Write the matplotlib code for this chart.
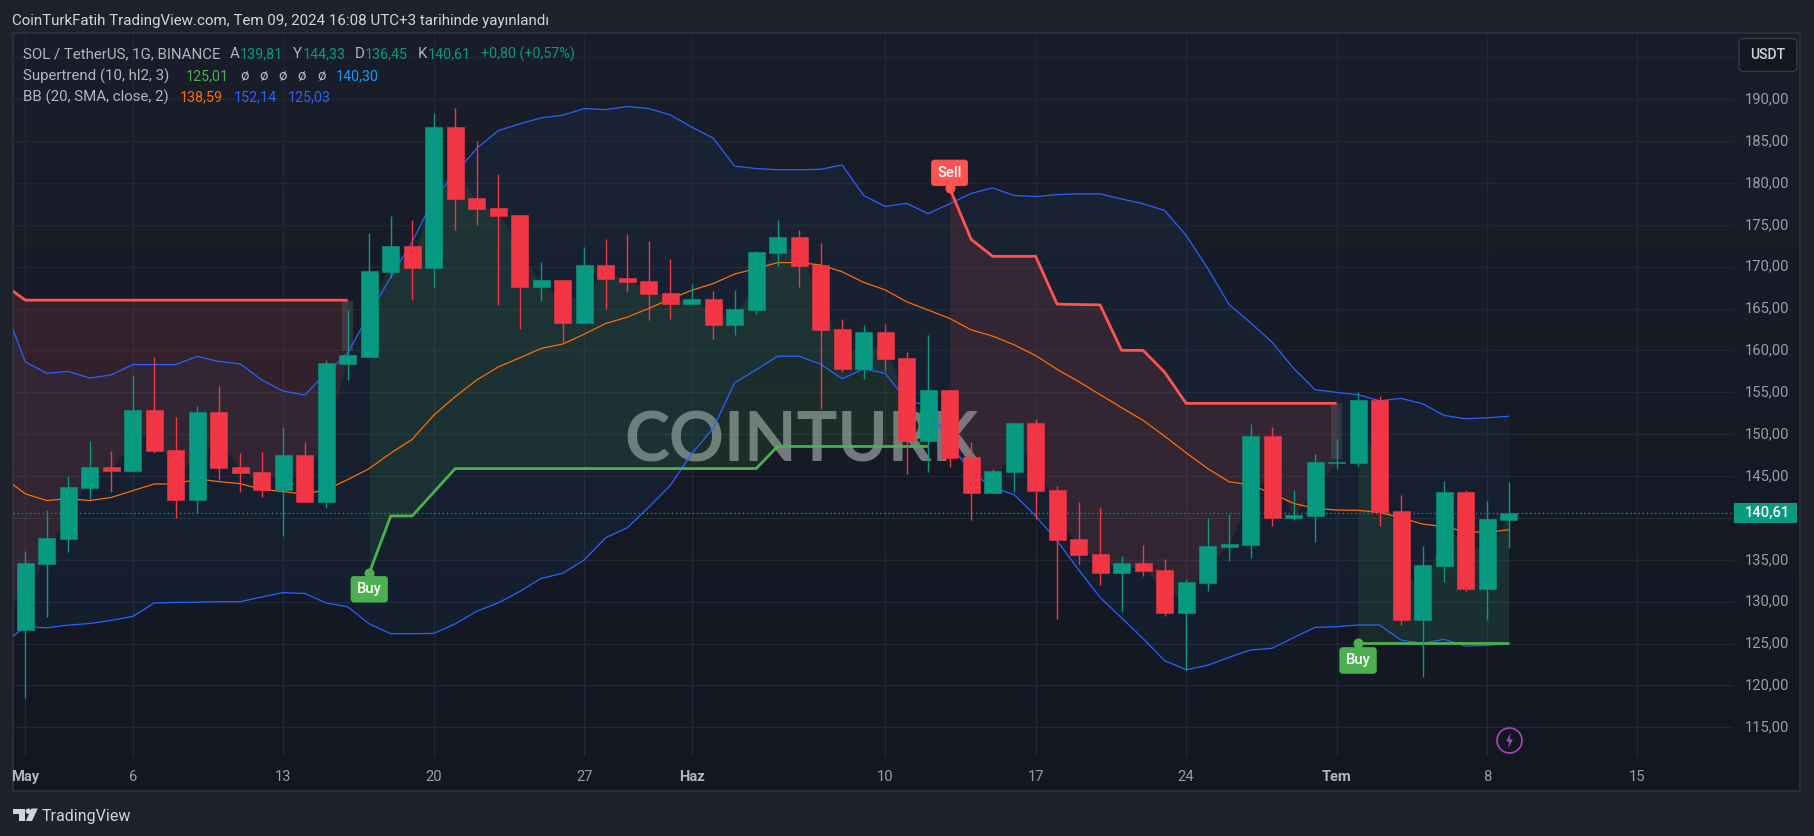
import matplotlib
matplotlib.use('Agg')
import matplotlib.pyplot as plt
import numpy as np
from matplotlib.patches import Rectangle, FancyBboxPatch, Polygon, Circle

# candles, May 1 .. Jul 9 (one per day)
opens = [126.64,134.52,137.50,143.59,146.09,145.62,152.89,148.12,142.12,152.65,
         146.09,145.47,143.35,147.50,141.89,158.36,159.21,169.36,172.48,169.84,
         186.69,178.19,177.01,176.16,167.57,168.42,163.27,170.21,168.66,168.28,
         166.86,165.54,166.15,163.04,164.83,171.63,173.57,170.21,162.57,157.80,
         162.19,159.12,149.21,155.30,147.27,142.97,145.47,151.33,143.35,137.50,
         135.70,133.44,134.62,133.77,128.67,132.21,136.53,136.77,149.78,139.99,
         140.23,146.56,146.56,154.08,140.83,127.81,134.26,143.10,131.51,139.81]
highs = [136.03,140.90,145.00,149.21,147.98,156.95,159.21,152.04,153.36,155.77,
         147.74,147.88,150.86,149.06,158.84,164.83,174.04,176.07,175.60,188.34,
         188.96,185.00,181.07,176.16,170.54,168.42,172.34,173.28,173.90,173.05,
         170.92,167.95,167.05,167.19,171.87,175.60,174.37,172.81,163.75,163.04,
         163.13,159.83,161.86,155.30,149.06,145.85,151.33,151.80,143.82,141.89,
         141.32,135.47,136.79,135.09,132.73,140.00,140.51,151.22,150.86,143.34,
         147.63,149.43,155.04,154.56,142.74,136.65,144.41,143.34,142.02,144.33]
lows = [118.52,128.20,135.94,142.22,143.11,145.47,147.74,140.00,140.61,144.48,
        143.11,142.50,137.83,141.89,141.18,156.48,159.21,168.66,166.01,167.48,
        174.37,174.98,165.45,162.57,165.92,161.01,163.27,164.93,166.96,163.65,
        163.75,165.54,161.39,161.86,164.36,170.07,167.57,153.03,157.42,156.57,
        157.51,145.24,145.47,146.14,139.76,142.97,143.11,139.86,127.91,134.52,
        132.02,128.76,133.11,128.29,121.87,131.27,134.86,135.21,139.04,139.75,
        137.13,145.84,146.20,139.04,127.21,121.00,132.35,131.27,127.81,136.45]
closes = [134.62,137.59,143.68,146.09,145.62,152.89,147.98,142.12,152.65,145.95,
          145.38,143.35,147.50,141.89,158.51,159.45,169.51,172.48,169.84,186.69,
          178.10,176.87,176.07,167.57,168.42,163.27,170.21,168.51,168.18,166.72,
          165.54,166.15,163.04,164.93,171.77,173.57,170.07,162.42,157.80,162.19,
          158.98,149.21,155.30,147.18,142.97,145.62,151.33,143.21,137.36,135.56,
          133.44,134.62,133.67,128.67,132.35,136.65,136.89,149.78,139.99,140.35,
          146.68,146.64,154.08,140.71,127.81,134.38,143.10,131.51,139.87,140.61]

# bollinger bands, first value is the day before May 1 (cut by the pane edge)
bb_upper = [165.30,158.65,157.28,157.51,156.71,157.09,158.32,158.32,158.32,159.31,
            158.69,158.41,156.48,155.15,154.68,157.33,159.69,164.40,168.75,173.00,
            178.10,181.17,184.14,186.26,187.07,187.78,188.10,188.90,188.77,189.14,
            188.90,188.15,186.69,185.37,182.02,181.73,181.59,181.59,181.64,182.16,
            178.52,177.20,177.58,176.35,177.53,178.76,179.42,178.52,178.38,178.62,
            178.71,178.71,178.10,177.53,176.73,173.75,169.84,165.50,163.30,161.00,
            157.87,155.32,155.00,154.72,154.00,154.28,153.65,152.25,151.85,151.97,152.14]
bb_basis = [144.80,142.88,142.08,142.31,142.08,142.45,143.26,144.06,144.06,144.67,
            144.34,144.10,143.40,143.16,142.83,143.40,144.58,145.90,147.74,149.39,
            152.27,154.49,156.48,158.03,159.12,160.25,160.77,161.95,163.23,163.98,
            165.02,166.15,167.19,167.99,169.13,169.79,170.50,170.50,170.21,169.41,
            168.14,167.24,165.82,164.83,163.84,162.47,161.72,160.68,159.40,157.75,
            156.29,154.73,153.17,151.66,149.77,147.79,145.90,144.33,143.93,142.94,
            141.74,141.15,140.95,140.91,140.67,140.03,139.27,138.96,138.36,138.28,138.59]
bb_lower = [125.00,127.02,126.88,127.20,127.39,127.77,128.24,129.85,129.90,129.94,
            130.00,130.00,130.56,131.08,130.98,129.85,129.38,127.35,126.17,126.17,
            126.21,127.35,128.86,129.85,131.22,132.78,133.39,134.99,137.64,138.82,
            141.27,143.87,147.65,150.72,156.14,157.70,159.31,159.31,158.36,156.62,
            157.80,157.28,154.02,153.41,148.83,145.52,143.63,142.78,140.24,137.26,
            133.81,130.51,128.06,125.60,122.96,121.87,122.40,123.35,124.23,124.43,
            125.70,126.93,127.01,127.21,127.21,125.42,125.02,125.50,124.70,124.78,125.03]

# supertrend pieces: first day index and the values from there on
st_dn1_start, st_dn1 = -1, [167.90] + [166.01] * 16
st_up1_start, st_up1 = 16, [133.40,140.24,140.24,143.07] + [145.90] * 15 + [148.54] * 8
st_dn2_start, st_dn2 = 43, [179.42,173.28,171.25,171.25,171.25,165.54,165.49,165.45,
                            160.02,160.02,157.42,153.69] + [153.69] * 7
st_up2_start, st_up2 = 62, [125.01] * 8
mid_before_may = 129.9

# grey boxes at the trend change
change_days = [15, 61]
change_top = [165.9, 153.69]
change_bottom = [159.9, 147.1]

price_ticks = [115,120,125,130,135,140,145,150,155,160,165,170,175,180,185,190,195]
price_labels = ['115,00','120,00','125,00','130,00','135,00','','145,00','150,00','155,00',
                '160,00','165,00','170,00','175,00','180,00','185,00','190,00','']
date_ticks = [0,5,12,19,26,31,40,47,54,61,68,75]
date_labels = ['May','6','13','20','27','Haz','10','17','24','Tem','8','15']
month_labels = ['May','Haz','Tem']

plt.rcParams['font.family'] = ['Roboto', 'DejaVu Sans']

GREEN = '#089981'
RED = '#f23645'
BLUE = '#2962ff'
ORANGE = '#ff6d00'
ST_GREEN = '#4caf50'
ST_RED = '#ff5252'
GRID = '#232733'

W, H = 1814, 836
fig = plt.figure(figsize=(W / 100, H / 100), dpi=100, facecolor='#1e222d')

# page in pixel coordinates, behind the chart
bg = fig.add_axes([0, 0, 1, 1], zorder=0)
bg.set_xlim(0, W)
bg.set_ylim(H, 0)
bg.axis('off')
grad = np.linspace(0, 1, 256).reshape(-1, 1)
c_top = np.array([0x1a, 0x1e, 0x2a]) / 255
c_bot = np.array([0x13, 0x17, 0x22]) / 255
bg.imshow(c_top + (c_bot - c_top) * grad[..., None], extent=(13, 1800, 791, 33), aspect='auto', zorder=1)
bg.set_xlim(0, W)
bg.set_ylim(H, 0)
bg.add_patch(Rectangle((13, 33), 1787, 758, fc='none', ec='#2a2e39', lw=1.5, zorder=2))

# chart pane
ax = fig.add_axes([13 / W, 1 - 757 / H, (1734 - 13) / W, (757 - 33) / H], zorder=1)
ax.patch.set_alpha(0)
ax.set_xlim(-0.572, 79.49)
ax.set_ylim(111.45, 197.92)
for s in ax.spines.values():
    s.set_visible(False)
ax.set_axisbelow(True)
ax.grid(True, color=GRID, lw=1)
ax.yaxis.tick_right()
ax.set_yticks(price_ticks)
ax.set_yticklabels(price_labels)
ax.set_xticks(date_ticks)
ax.set_xticklabels(date_labels)
ax.tick_params(axis='both', length=0)
ax.tick_params(axis='y', pad=8, labelsize=10.6, labelcolor='#9a9da6')
ax.tick_params(axis='x', pad=9.5, labelsize=10.6, labelcolor='#9a9da6')
for t in ax.get_yticklabels():
    t.set_verticalalignment('center')
for t in ax.get_xticklabels():
    if t.get_text() in month_labels:
        t.set_fontweight('bold')
        t.set_color('#b2b5be')

days = np.arange(len(closes))
bb_days = np.arange(-1, len(closes))
opens_a = np.array(opens)
closes_a = np.array(closes)
mids = (opens_a + closes_a) / 2

# watermark under the series
ax.text(789 / 1721, 1 - (441.5 - 33) / 724, 'COINTURK', transform=ax.transAxes, ha='center', va='center',
        fontsize=49, fontweight='bold', family='Lato', color='#c4c8c8', alpha=0.55, zorder=1.5)

# bands
ax.fill_between(bb_days, bb_lower, bb_upper, color='#2196f3', alpha=0.05, lw=0, zorder=1.6)
ax.plot(bb_days, bb_basis, color=ORANGE, lw=0.9, zorder=2.5)
ax.plot(bb_days, bb_upper, color=BLUE, lw=0.9, zorder=2.5)
ax.plot(bb_days, bb_lower, color=BLUE, lw=0.9, zorder=2.5)

# supertrend with fill up to the middle of the body
pieces = [(st_dn1_start, st_dn1, ST_RED), (st_up1_start, st_up1, ST_GREEN),
          (st_dn2_start, st_dn2, ST_RED), (st_up2_start, st_up2, ST_GREEN)]
for start, vals, col in pieces:
    xs = np.arange(start, start + len(vals))
    m = np.array([mid_before_may if d < 0 else mids[d] for d in xs])
    ax.fill_between(xs, vals, m, color=col, alpha=0.12, lw=0, zorder=1.7)
    ax.plot(xs, vals, color=col, lw=2, zorder=2.6, solid_joinstyle='round', solid_capstyle='butt')

ax.bar(change_days, np.array(change_top) - np.array(change_bottom), bottom=change_bottom, width=0.5,
       color='#787b86', alpha=0.25, lw=0, zorder=1.8)

# last price line
ax.axhline(closes[-1], color=GREEN, lw=1, ls=(0, (1, 2)), zorder=2.4)

# candles
cols = [GREEN if c >= o else RED for o, c in zip(opens, closes)]
ax.vlines(days, lows, highs, colors=cols, lw=1, zorder=3)
ax.bar(days, np.abs(closes_a - opens_a), bottom=np.minimum(opens_a, closes_a), width=0.79, color=cols,
       edgecolor=cols, lw=0.4, zorder=3.1)

# buy / sell markers
def signal(day, price, txt, col, off):
    ax.plot([day], [price], 'o', color=col, ms=7.2, mew=0, zorder=3.3)
    ax.annotate(txt, xy=(day, price), xytext=(0, off), textcoords='offset pixels', ha='center', va='center',
                color='white', fontsize=10.6, fontweight='medium', zorder=3.4,
                bbox=dict(boxstyle='round,pad=0.4,rounding_size=0.2', fc=col, ec=col, lw=0.5))

signal(st_up1_start, st_up1[0], 'Buy', ST_GREEN, -16)
signal(st_dn2_start, st_dn2[0], 'Sell', ST_RED, 15)
signal(st_up2_start, st_up2[0], 'Buy', ST_GREEN, -17)

# lightning mark
ax.plot([69], [113.48], 'o', mfc='none', mec='#ab47bc', mew=1.2, ms=18, zorder=3, clip_on=False)
ax.plot([69], [113.48], marker=[(0.8, 5), (-2.2, -0.6), (-0.2, -0.6), (-1, -5), (2.2, 0.7), (0.2, 0.7)],
        color='#ab47bc', mew=0, ms=11, zorder=3)

# overlay in pixel coordinates for texts and boxes
top = fig.add_axes([0, 0, 1, 1], zorder=2)
top.set_xlim(0, W)
top.set_ylim(H, 0)
top.axis('off')
top.patch.set_alpha(0)

top.text(12, 21, 'CoinTurkFatih TradingView.com, Tem 09, 2024 16:08 UTC+3 tarihinde yayınlandı',
         color='#d1d4dc', fontsize=10.9, va='center', ha='left')

# legend rows, x from the picture
LEG = '#b2b5be'
rows = [
    (54, [(23.3, 'SOL / TetherUS, 1G, BINANCE', LEG), (230, 'A', LEG), (240, '139,81', GREEN),
          (292.6, 'Y', LEG), (302.5, '144,33', GREEN), (355, 'D', LEG), (365, '136,45', GREEN),
          (418, 'K', LEG), (428, '140,61', GREEN), (481, '+0,80 (+0,57%)', GREEN)]),
    (76, [(23.3, 'Supertrend (10, hl2, 3)', LEG), (186, '125,01', ST_GREEN), (240.4, 'ø', LEG), (259.4, 'ø', LEG),
          (278.8, 'ø', LEG), (297.7, 'ø', LEG), (317, 'ø', LEG), (336, '140,30', '#2196f3')]),
    (97, [(23.3, 'BB (20, SMA, close, 2)', LEG), (180, '138,59', ORANGE), (234, '152,14', BLUE),
          (288, '125,03', BLUE)]),
]
for y, items in rows:
    for x, s, c in items:
        fs = 10.8 if c == LEG else 10.3
        top.text(x, y, s, color=c, fontsize=fs, va='center', ha='left')

# currency box
top.add_patch(FancyBboxPatch((1739, 38.5), 58, 33, boxstyle='round,pad=0,rounding_size=5', fc='#131722',
                             ec='#363a45', lw=1))
top.text(1768, 55, 'USDT', color='#d1d4dc', fontsize=10, ha='center', va='center', fontweight='medium')

# last price tag
tag_y = H - ax.transData.transform((0, closes[-1]))[1]
top.add_patch(Rectangle((1734, tag_y - 10), 63, 20.5, fc=GREEN, ec='none'))
top.text(1790, tag_y + 0.5, '140,61', color='white', fontsize=10.6, ha='right', va='center', fontweight='medium')

# tradingview logo
LOGO = '#d1d4dc'
top.add_patch(Polygon([(13, 808.5), (25, 808.5), (25, 821), (19, 821), (19, 814), (13, 814)], fc=LOGO, ec='none'))
top.add_patch(Circle((28.3, 811.2), 2.7, fc=LOGO, ec='none'))
top.add_patch(Polygon([(31.5, 808.5), (37.8, 808.5), (32, 821), (25.8, 821)], fc=LOGO, ec='none'))
top.text(42, 816, 'TradingView', color=LOGO, fontsize=11.5, va='center', ha='left')

fig.savefig('out.png', dpi=100, facecolor=fig.get_facecolor())
